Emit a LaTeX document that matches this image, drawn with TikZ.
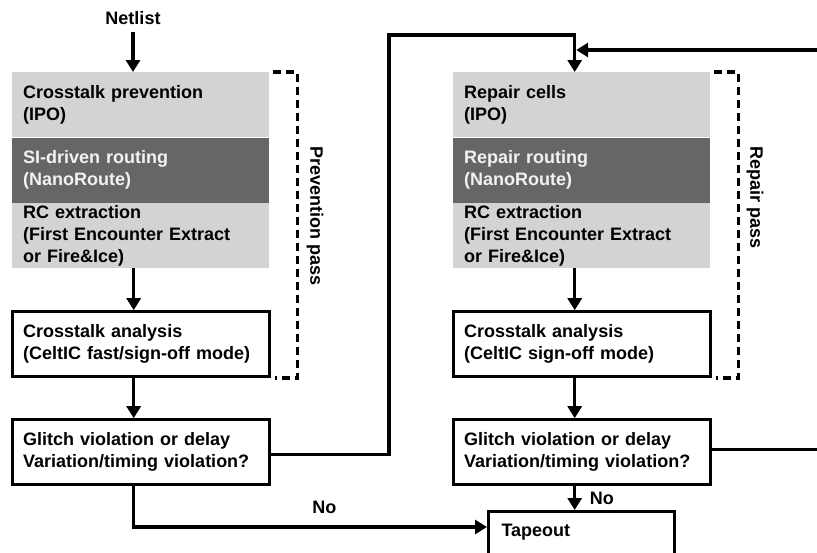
\documentclass[tikz,border=0pt]{standalone}
\usepackage{fontspec}
\setmainfont{Liberation Sans}
\usetikzlibrary{arrows.meta,calc,positioning}
\definecolor{stagegray}{HTML}{D3D3D3}
\definecolor{routegray}{HTML}{666666}

\begin{document}
\begin{tikzpicture}[x=1pt,y=-1pt,
  every node/.style={font=\fontsize{18}{22}\selectfont\bfseries},
  stage/.style={rectangle,fill=stagegray,text width=235pt,align=left,
    inner xsep=11pt,inner ysep=1pt,minimum height=65pt},
  routestage/.style={stage,fill=routegray,text=white!95!black},
  check/.style={rectangle,draw,line width=3pt,fill=white,text width=235pt,
    align=left,inner xsep=11pt,minimum height=65pt},
  flow/.style={line width=3.5pt,-{Triangle[length=12pt,width=14pt]}},
  passline/.style={line width=3.5pt,dash pattern=on 8pt off 5pt}]
  \useasboundingbox (0,0) rectangle (817,552);
  \clip (0,0) rectangle (817,552);

  % Prevention pass
  \node (netlist) at (133,18) {Netlist};
  \node[stage,anchor=north west] (prev) at (12,72) {Crosstalk prevention\\(IPO)};
  \node[routestage,below=0pt of prev] (route) {SI-driven routing\\(NanoRoute)};
  \node[stage,below=0pt of route] (rcx) {RC extraction\\(First Encounter Extract\\or Fire\&Ice)};
  \node[check,below=42pt of rcx] (ana) {Crosstalk analysis\\(CeltIC fast/sign-off mode)};
  \node[check,below=40pt of ana] (glitch) {Glitch violation or delay\\Variation/timing violation?};

  % Repair pass
  \node[stage,anchor=north west] (rcell) at (453,72) {Repair cells\\(IPO)};
  \node[routestage,below=0pt of rcell] (rroute) {Repair routing\\(NanoRoute)};
  \node[stage,below=0pt of rroute] (rrcx) {RC extraction\\(First Encounter Extract\\or Fire\&Ice)};
  \node[check,below=42pt of rrcx] (rana) {Crosstalk analysis\\(CeltIC sign-off mode)};
  \node[check,below=40pt of rana] (rglitch) {Glitch violation or delay\\Variation/timing violation?};
  \node[check,anchor=north west,text width=160pt,inner xsep=13pt,inner ysep=13pt,
    text depth=50pt] (tapeout) at (487,510) {Tapeout};

  % pass brackets
  \draw[passline] ([xshift=4pt]prev.north east) -| ([xshift=27pt]ana.south east)
    -- ([xshift=4pt]ana.south east);
  \node[rotate=-90,anchor=west] (prevlbl) at (315,143) {Prevention pass};
  \draw[passline] ([xshift=4pt]rcell.north east) -| ([xshift=27pt]rana.south east)
    -- ([xshift=4pt]rana.south east);
  \node[rotate=-90,anchor=west] (replbl) at (755,143) {Repair pass};

  % flow
  \draw[flow,shorten <=4pt] (netlist.south) -- (netlist.south |- prev.north);
  \draw[flow] ([xshift=-7pt]rcx.south) -- ([xshift=-7pt]ana.north);
  \draw[flow] ([xshift=-7pt]ana.south) -- ([xshift=-7pt]glitch.north);
  \draw[flow] ([xshift=-7pt]rrcx.south) -- ([xshift=-7pt]rana.north);
  \draw[flow] ([xshift=-7pt]rana.south) -- ([xshift=-7pt]rglitch.north);
  \draw[flow] ([xshift=-7pt]rglitch.south) -- ([xshift=-7pt]rglitch.south |- tapeout.north)
    node[midway,right=10pt] {No};
  \draw[flow] ([xshift=-7pt]glitch.south) |- ([yshift=-17pt]tapeout.north west)
    node[pos=0.77,above=8pt] {No};

  % loops back to repair
  \coordinate (jump) at (389,35);
  \coordinate (rin) at ([xshift=-7pt]rcell.north);
  \coordinate (back) at (840,50);
  \draw[flow] ([yshift=-2.5pt]glitch.east) -| (jump) -| (rin);
  \draw[flow,shorten >=1.5pt] ([yshift=2.5pt]rglitch.east) -| (back) -- (back -| rin);
\end{tikzpicture}
\end{document}
